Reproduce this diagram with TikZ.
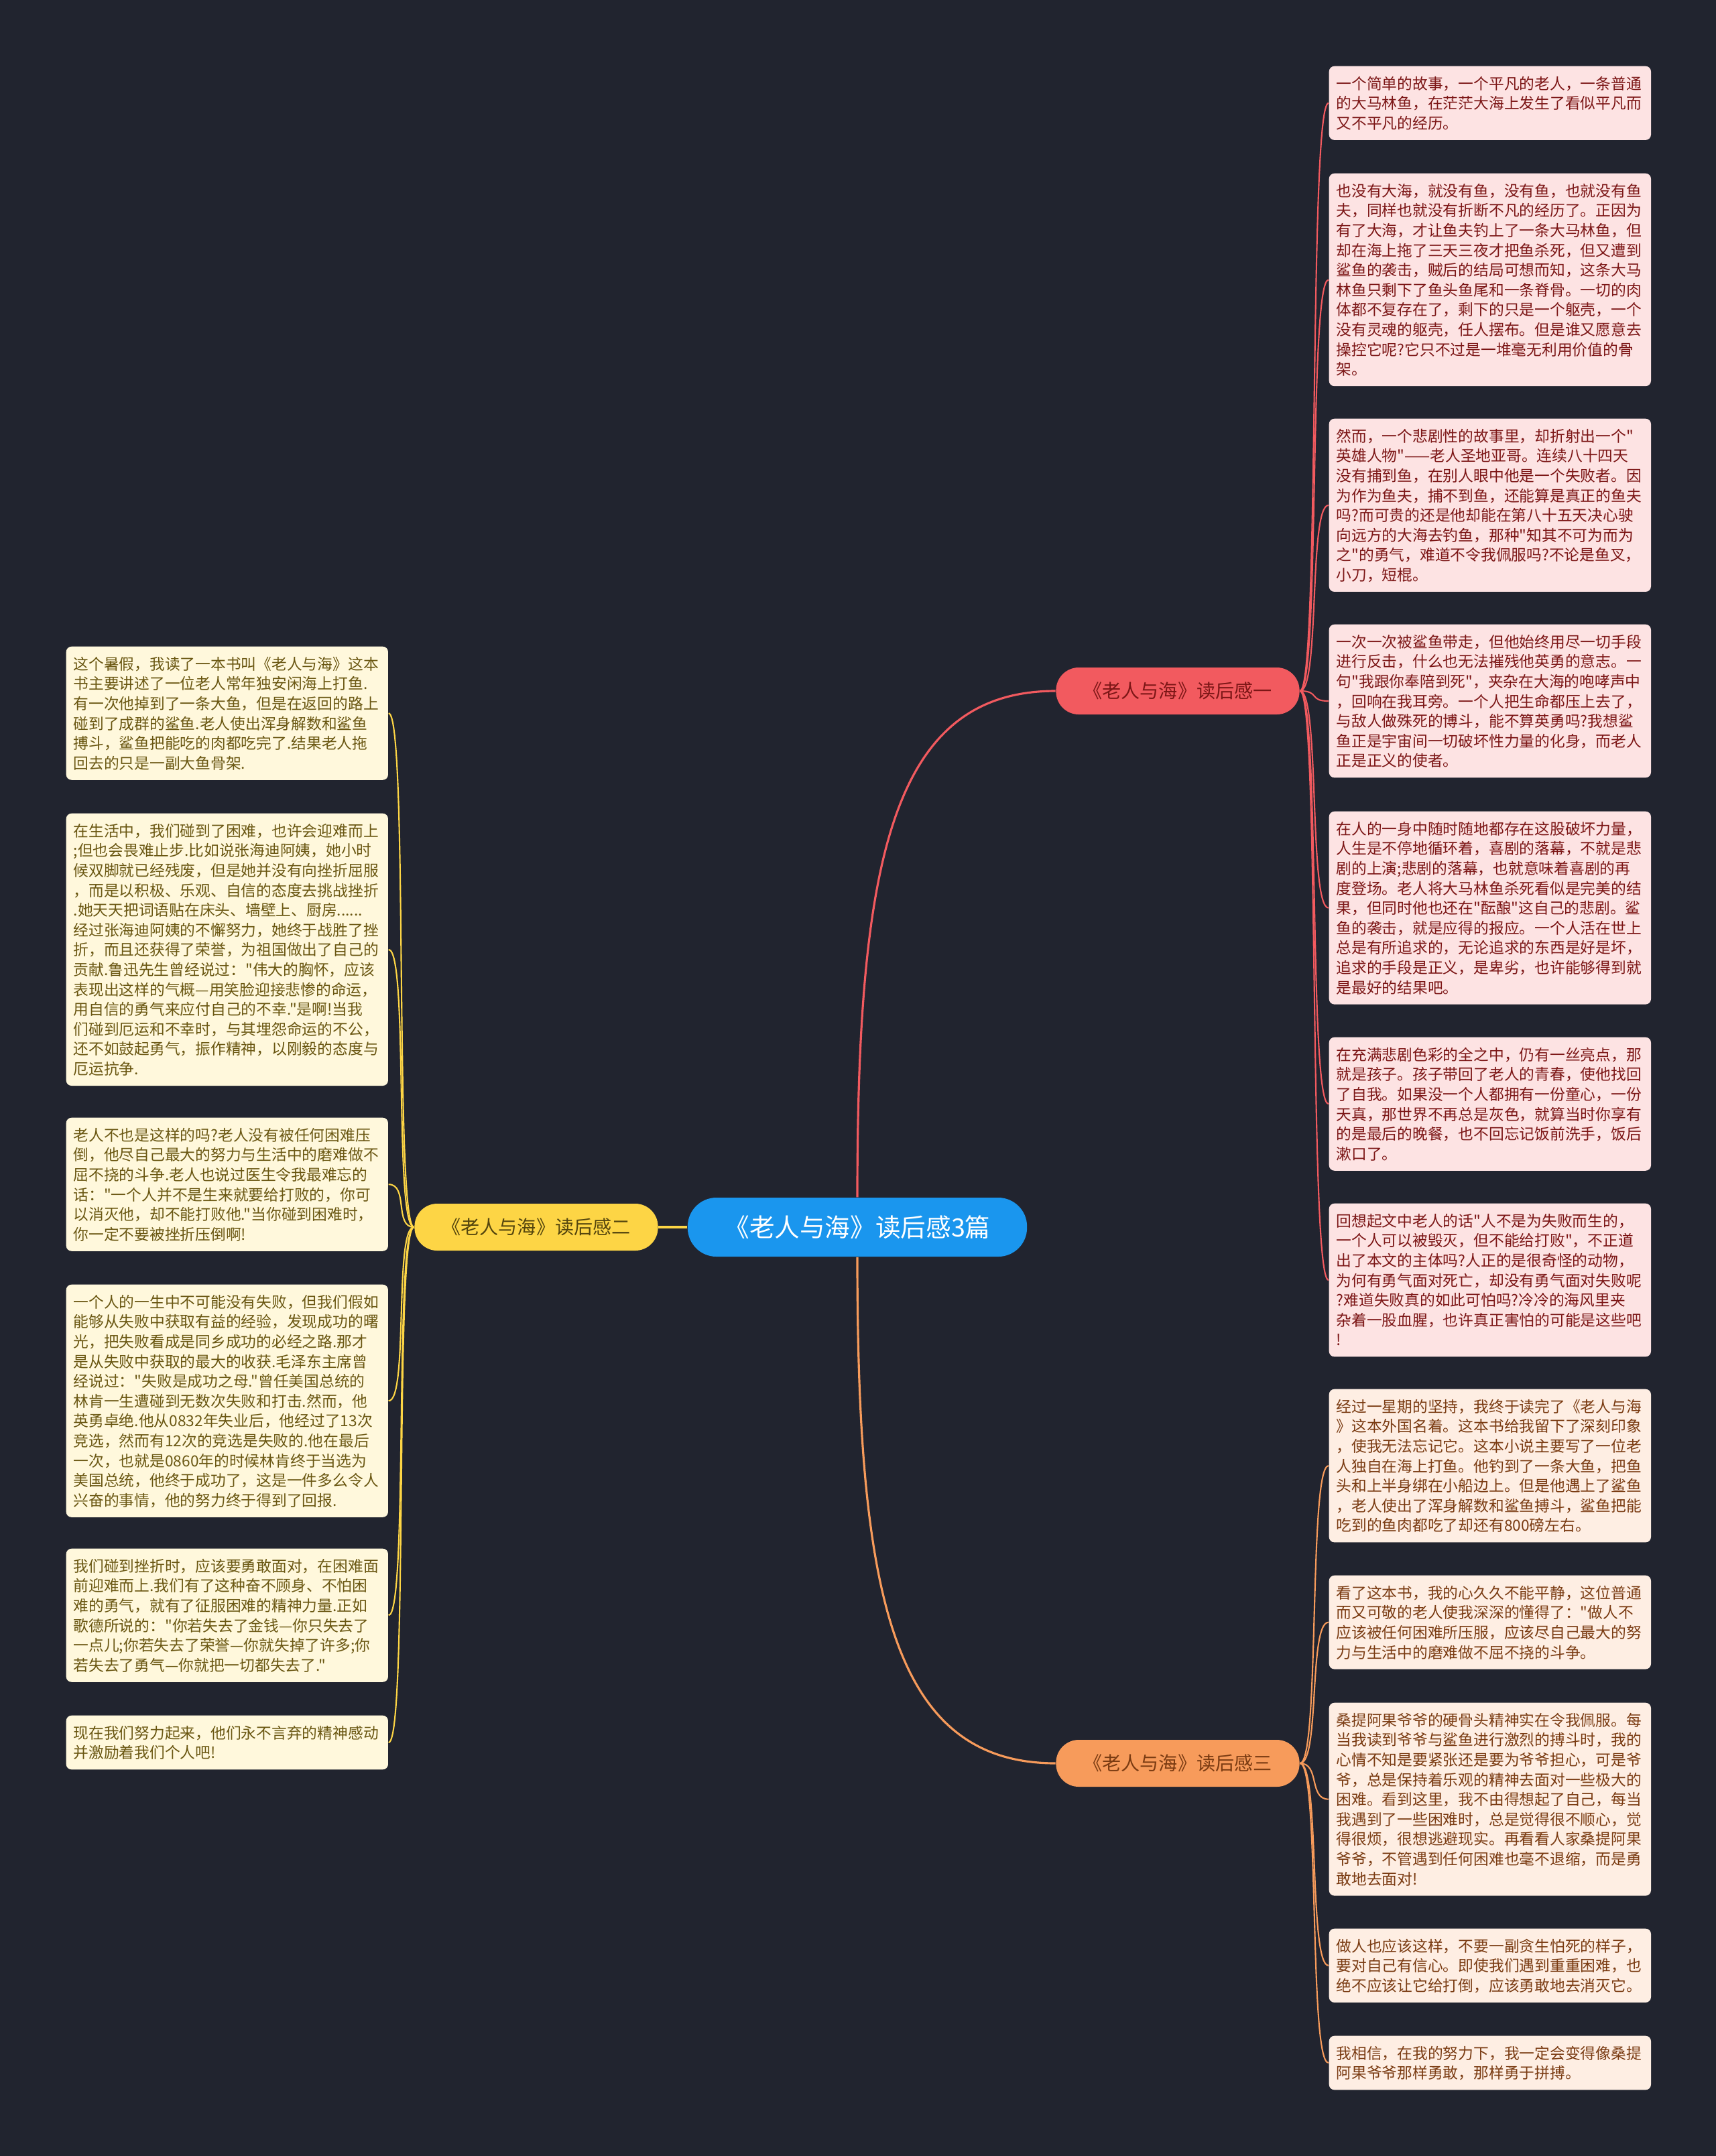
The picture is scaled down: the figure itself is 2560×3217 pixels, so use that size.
\documentclass[tikz,border=0pt]{standalone}
\usepackage{fontspec}
\newfontfamily\cjkfont{Noto Sans CJK SC}
\usepackage{tikz}
\definecolor{mmbg}{HTML}{21242F}
\definecolor{mmblue}{HTML}{1A96EE}
\definecolor{mmred}{HTML}{F25A5F}
\definecolor{mmyellow}{HTML}{FDD545}
\definecolor{mmorange}{HTML}{F79B5B}
\definecolor{redfill}{HTML}{FDE3E3}
\definecolor{redtext}{HTML}{7C1616}
\definecolor{orafill}{HTML}{FEEEE3}
\definecolor{oratext}{HTML}{7A3B12}
\definecolor{yelfill}{HTML}{FFF8DC}
\definecolor{yeltext}{HTML}{6A5712}
\newcommand{\topstrut}{\rule{0pt}{7.8pt}}
\newcommand{\botstrut}{\rule[-2.7pt]{0pt}{2.7pt}}

\begin{document}
\begin{tikzpicture}[x=0.01cm,y=-0.01cm,
  leaf/.style={anchor=north west,rounded corners=0.08cm,text width=4.58cm,align=left,
    inner xsep=0.11cm,inner ysep=2pt,font={\cjkfont\fontsize{6.47pt}{8.42pt}\selectfont}},
  leafred/.style={leaf,fill=redfill,text=redtext},
  leafora/.style={leaf,fill=orafill,text=oratext},
  leafyel/.style={leaf,fill=yelfill,text=yeltext},
  branch/.style={rounded corners=0.34cm,minimum width=3.63cm,minimum height=0.70cm,inner sep=0pt,
    font={\cjkfont\fontsize{8pt}{10pt}\selectfont},text height=7pt,text depth=1pt},
  rootnode/.style={fill=mmblue,text=white,rounded corners=0.43cm,minimum width=5.06cm,
    minimum height=0.88cm,inner sep=0pt,font={\cjkfont\fontsize{10.7pt}{12pt}\selectfont},
    text height=9.4pt,text depth=1.3pt},
  link/.style={line width=0.6pt},
  trunk/.style={line width=0.9pt}]
  \useasboundingbox (0,0) rectangle (2560,3217);
  \fill[mmbg] (0,0) rectangle (2560,3217);

  % centre and branches
  \node[rootnode] (root) at (1279,1831) {《老人与海》读后感3篇};
  \node[branch,fill=mmred,text=redtext] (b1) at (1757,1031) {《老人与海》读后感一};
  \node[branch,fill=mmyellow,text=yeltext!80!black] (b2) at (800,1831) {《老人与海》读后感二};
  \node[branch,fill=mmorange,text=oratext] (b3) at (1757,2631) {《老人与海》读后感三};

  % branch one
  \node[leafred] (r1) at (1982,98) {\topstrut 一个简单的故事，一个平凡的老人，一条普通\\的大马林鱼，在茫茫大海上发生了看似平凡而\\又不平凡的经历。\botstrut};
  \node[leafred] (r2) at (1982,258) {\topstrut 也没有大海，就没有鱼，没有鱼，也就没有鱼\\夫，同样也就没有折断不凡的经历了。正因为\\有了大海，才让鱼夫钓上了一条大马林鱼，但\\却在海上拖了三天三夜才把鱼杀死，但又遭到\\鲨鱼的袭击，贼后的结局可想而知，这条大马\\林鱼只剩下了鱼头鱼尾和一条脊骨。一切的肉\\体都不复存在了，剩下的只是一个躯壳，一个\\没有灵魂的躯壳，任人摆布。但是谁又愿意去\\操控它呢?它只不过是一堆毫无利用价值的骨\\架。\botstrut};
  \node[leafred] (r3) at (1982,624) {\topstrut 然而，一个悲剧性的故事里，却折射出一个"\\英雄人物"——老人圣地亚哥。连续八十四天\\没有捕到鱼，在别人眼中他是一个失败者。因\\为作为鱼夫，捕不到鱼，还能算是真正的鱼夫\\吗?而可贵的还是他却能在第八十五天决心驶\\向远方的大海去钓鱼，那种"知其不可为而为\\之"的勇气，难道不令我佩服吗?不论是鱼叉，\\小刀，短棍。\botstrut};
  \node[leafred] (r4) at (1982,931) {\topstrut 一次一次被鲨鱼带走，但他始终用尽一切手段\\进行反击，什么也无法摧残他英勇的意志。一\\句"我跟你奉陪到死"，夹杂在大海的咆哮声中\\，回响在我耳旁。一个人把生命都压上去了，\\与敌人做殊死的博斗，能不算英勇吗?我想鲨\\鱼正是宇宙间一切破坏性力量的化身，而老人\\正是正义的使者。\botstrut};
  \node[leafred] (r5) at (1982,1210) {\topstrut 在人的一身中随时随地都存在这股破坏力量，\\人生是不停地循环着，喜剧的落幕，不就是悲\\剧的上演;悲剧的落幕，也就意味着喜剧的再\\度登场。老人将大马林鱼杀死看似是完美的结\\果，但同时他也还在"酝酿"这自己的悲剧。鲨\\鱼的袭击，就是应得的报应。一个人活在世上\\总是有所追求的，无论追求的东西是好是坏，\\追求的手段是正义，是卑劣，也许能够得到就\\是最好的结果吧。\botstrut};
  \node[leafred] (r6) at (1982,1547) {\topstrut 在充满悲剧色彩的全之中，仍有一丝亮点，那\\就是孩子。孩子带回了老人的青春，使他找回\\了自我。如果没一个人都拥有一份童心，一份\\天真，那世界不再总是灰色，就算当时你享有\\的是最后的晚餐，也不回忘记饭前洗手，饭后\\漱口了。\botstrut};
  \node[leafred] (r7) at (1982,1795) {\topstrut 回想起文中老人的话"人不是为失败而生的，\\一个人可以被毁灭，但不能给打败"，不正道\\出了本文的主体吗?人正的是很奇怪的动物，\\为何有勇气面对死亡，却没有勇气面对失败呢\\?难道失败真的如此可怕吗?冷冷的海风里夹\\杂着一股血腥，也许真正害怕的可能是这些吧\\!\botstrut};

  % branch three
  \node[leafora] (r8) at (1982,2072) {\topstrut 经过一星期的坚持，我终于读完了《老人与海\\》这本外国名着。这本书给我留下了深刻印象\\，使我无法忘记它。这本小说主要写了一位老\\人独自在海上打鱼。他钓到了一条大鱼，把鱼\\头和上半身绑在小船边上。但是他遇上了鲨鱼\\，老人使出了浑身解数和鲨鱼搏斗，鲨鱼把能\\吃到的鱼肉都吃了却还有800磅左右。\botstrut};
  \node[leafora] (r9) at (1982,2350) {\topstrut 看了这本书，我的心久久不能平静，这位普通\\而又可敬的老人使我深深的懂得了："做人不\\应该被任何困难所压服，应该尽自己最大的努\\力与生活中的磨难做不屈不挠的斗争。\botstrut};
  \node[leafora] (r10) at (1982,2540) {\topstrut 桑提阿果爷爷的硬骨头精神实在令我佩服。每\\当我读到爷爷与鲨鱼进行激烈的搏斗时，我的\\心情不知是要紧张还是要为爷爷担心，可是爷\\爷，总是保持着乐观的精神去面对一些极大的\\困难。看到这里，我不由得想起了自己，每当\\我遇到了一些困难时，总是觉得很不顺心，觉\\得很烦，很想逃避现实。再看看人家桑提阿果\\爷爷，不管遇到任何困难也毫不退缩，而是勇\\敢地去面对!\botstrut};
  \node[leafora] (r11) at (1982,2877) {\topstrut 做人也应该这样，不要一副贪生怕死的样子，\\要对自己有信心。即使我们遇到重重困难，也\\绝不应该让它给打倒，应该勇敢地去消灭它。\botstrut};
  \node[leafora] (r12) at (1982,3037) {\topstrut 我相信，在我的努力下，我一定会变得像桑提\\阿果爷爷那样勇敢，那样勇于拼搏。\botstrut};

  % branch two
  \node[leafyel] (l1) at (98,964) {\topstrut 这个暑假，我读了一本书叫《老人与海》这本\\书主要讲述了一位老人常年独安闲海上打鱼.\\有一次他掉到了一条大鱼，但是在返回的路上\\碰到了成群的鲨鱼.老人使出浑身解数和鲨鱼\\搏斗，鲨鱼把能吃的肉都吃完了.结果老人拖\\回去的只是一副大鱼骨架.\botstrut};
  \node[leafyel] (l2) at (98,1213) {\topstrut 在生活中，我们碰到了困难，也许会迎难而上\\;但也会畏难止步.比如说张海迪阿姨，她小时\\候双脚就已经残废，但是她并没有向挫折屈服\\，而是以积极、乐观、自信的态度去挑战挫折\\.她天天把词语贴在床头、墙壁上、厨房......\\经过张海迪阿姨的不懈努力，她终于战胜了挫\\折，而且还获得了荣誉，为祖国做出了自己的\\贡献.鲁迅先生曾经说过："伟大的胸怀，应该\\表现出这样的气概—用笑脸迎接悲惨的命运，\\用自信的勇气来应付自己的不幸."是啊!当我\\们碰到厄运和不幸时，与其埋怨命运的不公，\\还不如鼓起勇气，振作精神，以刚毅的态度与\\厄运抗争.\botstrut};
  \node[leafyel] (l3) at (98,1667) {\topstrut 老人不也是这样的吗?老人没有被任何困难压\\倒，他尽自己最大的努力与生活中的磨难做不\\屈不挠的斗争.老人也说过医生令我最难忘的\\话："一个人并不是生来就要给打败的，你可\\以消灭他，却不能打败他."当你碰到困难时，\\你一定不要被挫折压倒啊!\botstrut};
  \node[leafyel] (l4) at (98,1916) {\topstrut 一个人的一生中不可能没有失败，但我们假如\\能够从失败中获取有益的经验，发现成功的曙\\光，把失败看成是同乡成功的必经之路.那才\\是从失败中获取的最大的收获.毛泽东主席曾\\经说过："失败是成功之母."曾任美国总统的\\林肯一生遭碰到无数次失败和打击.然而，他\\英勇卓绝.他从0832年失业后，他经过了13次\\竞选，然而有12次的竞选是失败的.他在最后\\一次，也就是0860年的时候林肯终于当选为\\美国总统，他终于成功了，这是一件多么令人\\兴奋的事情，他的努力终于得到了回报.\botstrut};
  \node[leafyel] (l5) at (98,2310) {\topstrut 我们碰到挫折时，应该要勇敢面对，在困难面\\前迎难而上.我们有了这种奋不顾身、不怕困\\难的勇气，就有了征服困难的精神力量.正如\\歌德所说的："你若失去了金钱—你只失去了\\一点儿;你若失去了荣誉—你就失掉了许多;你\\若失去了勇气—你就把一切都失去了."\botstrut};
  \node[leafyel] (l6) at (98,2559) {\topstrut 现在我们努力起来，他们永不言弃的精神感动\\并激励着我们个人吧!\botstrut};

  % connectors
  \draw[trunk,mmred] (root.north) .. controls +(0,-500) and +(-245,0) .. (b1.west);
  \draw[trunk,mmorange] (root.south) .. controls +(0,500) and +(-245,0) .. (b3.west);
  \draw[trunk,mmyellow] (root.west) -- (b2.east);
  \foreach \i in {1,...,7}
    \draw[link,mmred] (b1.east) .. controls +(30,0) and +(-30,0) .. (r\i.west);
  \foreach \i in {8,...,12}
    \draw[link,mmorange] (b3.east) .. controls +(30,0) and +(-30,0) .. (r\i.west);
  \foreach \i in {1,...,6}
    \draw[link,mmyellow] (b2.west) .. controls +(-30,0) and +(30,0) .. (l\i.east);
\end{tikzpicture}
\end{document}
